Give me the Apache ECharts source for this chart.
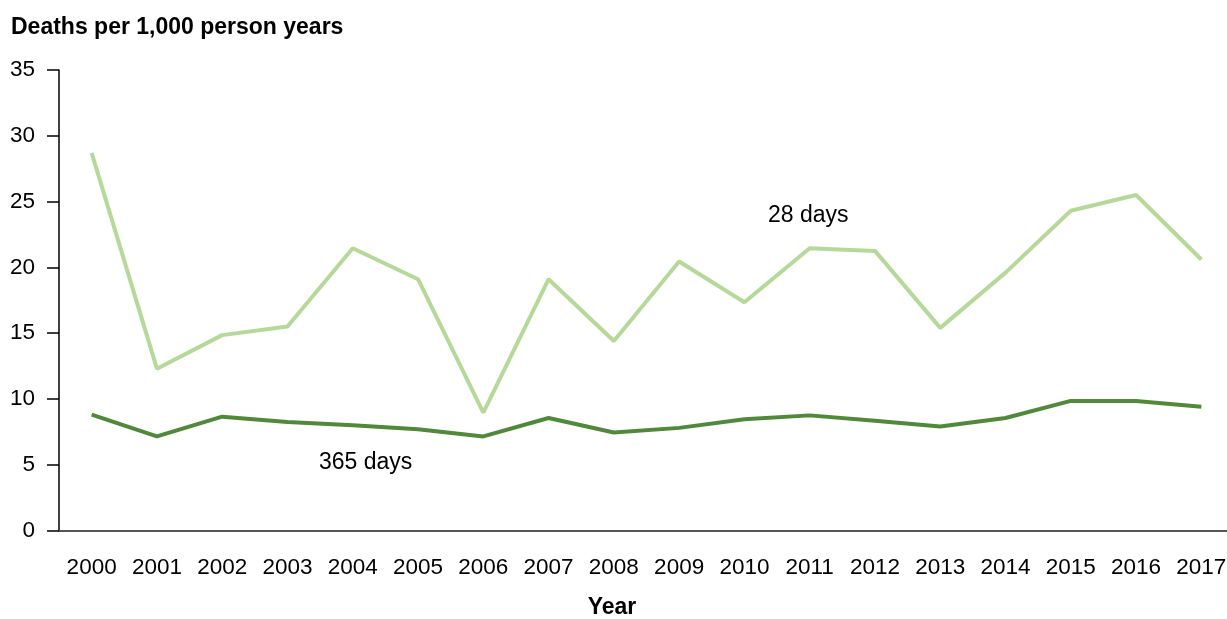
<!DOCTYPE html>
<html>
<head>
<meta charset="utf-8">
<script src="https://cdn.jsdelivr.net/npm/echarts@6/dist/echarts.min.js"></script>
<style>html,body{margin:0;padding:0;background:#fff;}#c{width:1227px;height:619px;}</style>
</head>
<body>
<div id="c"></div>
<script>
const years = ['2000','2001','2002','2003','2004','2005','2006','2007','2008','2009','2010','2011','2012','2013','2014','2015','2016','2017'];
const days28 = [28.7, 12.3, 14.85, 15.5, 21.45, 19.1, 8.95, 19.1, 14.4, 20.45, 17.35, 21.45, 21.25, 15.4, 19.6, 24.3, 25.5, 20.6];
const days365 = [8.8, 7.15, 8.65, 8.25, 8.0, 7.7, 7.15, 8.55, 7.45, 7.8, 8.45, 8.75, 8.35, 7.9, 8.55, 9.85, 9.85, 9.4];
const yTicks = {min: 0, max: 35, interval: 5};

const font = 'Arial, "Liberation Sans", sans-serif';
const chart = echarts.init(document.getElementById('c'), null, {renderer: 'canvas'});
chart.setOption({
  animation: false,
  backgroundColor: '#fff',
  grid: {left: 59, width: 1175, top: 70, bottom: 88.5, containLabel: false, outerBoundsMode: 'none'},
  xAxis: {
    type: 'category',
    data: years,
    boundaryGap: true,
    axisLine: {lineStyle: {color: '#555', width: 2}},
    axisTick: {alignWithLabel: true, length: 9, lineStyle: {color: '#555', width: 2}},
    axisLabel: {fontFamily: font, fontSize: 22.5, color: '#000', margin: 26, interval: 0}
  },
  yAxis: {
    type: 'value',
    min: yTicks.min, max: yTicks.max, interval: yTicks.interval,
    axisLine: {show: true, lineStyle: {color: '#000', width: 1.5}},
    axisTick: {show: true, length: 12, lineStyle: {color: '#000', width: 1.5}},
    axisLabel: {fontFamily: font, fontSize: 22.5, color: '#000', margin: 24},
    splitLine: {show: false}
  },
  graphic: [
    {type: 'text', left: 11, top: 16, style: {text: 'Deaths per 1,000 person years', font: 'bold 23px ' + font, fill: '#000'}},
    {type: 'text', x: 612, y: 608, style: {text: 'Year', font: 'bold 23px ' + font, fill: '#000', align: 'center', verticalAlign: 'middle'}},
    {type: 'text', left: 768, top: 204, style: {text: '28 days', font: '23px ' + font, fill: '#000'}},
    {type: 'text', left: 319, top: 451, style: {text: '365 days', font: '23px ' + font, fill: '#000'}}
  ],
  series: [
    {name: '28 days', type: 'line', data: days28, symbol: 'none', lineStyle: {color: '#b6d99a', width: 4}, z: 2},
    {name: '365 days', type: 'line', data: days365, symbol: 'none', lineStyle: {color: '#51893b', width: 4}, z: 3}
  ]
});
</script>
</body>
</html>
